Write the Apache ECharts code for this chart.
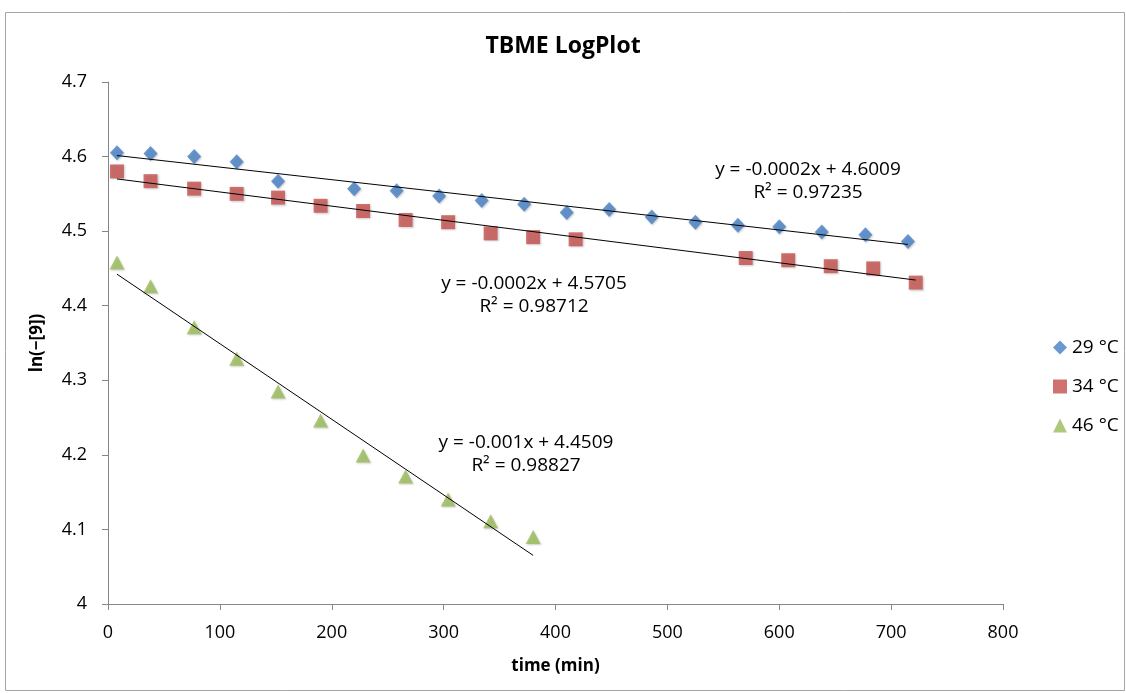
<!DOCTYPE html>
<html>
<head>
<meta charset="utf-8">
<script src="https://cdn.jsdelivr.net/npm/echarts@6/dist/echarts.min.js"></script>
<style>
  html, body { margin: 0; padding: 0; background: #fff; }
  #chart { width: 1126px; height: 693px; }
</style>
</head>
<body>
<div id="chart"></div>
<script>
// values
const seriesNames = ["29 °C", "34 °C", "46 °C"];

const time29 = [8, 38, 77, 115, 152, 220, 258, 296, 334, 372, 410, 448, 486, 525, 563, 600, 638, 677, 715];
const ln29 = [4.605, 4.604, 4.600, 4.593, 4.567, 4.557, 4.554, 4.547, 4.541, 4.536, 4.525, 4.529, 4.519, 4.512, 4.508, 4.506, 4.499, 4.495, 4.486];

const time34 = [8, 38, 77, 115, 152, 190, 228, 266, 304, 342, 380, 418, 570, 608, 646, 684, 722];
const ln34 = [4.580, 4.567, 4.557, 4.550, 4.545, 4.534, 4.527, 4.515, 4.512, 4.497, 4.492, 4.489, 4.464, 4.461, 4.453, 4.450, 4.431];

const time46 = [8, 38, 77, 115, 152, 190, 228, 266, 304, 342, 380];
const ln46 = [4.458, 4.426, 4.371, 4.329, 4.285, 4.246, 4.199, 4.171, 4.140, 4.111, 4.090];

const trendLabels = [
  "y = -0.0002x + 4.6009\nR² = 0.97235",
  "y = -0.0002x + 4.5705\nR² = 0.98712",
  "y = -0.001x + 4.4509\nR² = 0.98827",
];

const colors = ["#4580c6", "#c4504c", "#9bbb59"];
const symbols = ["diamond", "rect", "triangle"];
const symbolSizes = [[14, 15], [14, 14], [15, 14]];
const FONT = "Open Sans";

// least squares fit, the way the spreadsheet draws its trendline
function fitLine(xs, ys) {
  const n = xs.length;
  let sx = 0, sy = 0, sxx = 0, sxy = 0;
  for (let i = 0; i < n; i++) {
    sx += xs[i]; sy += ys[i];
    sxx += xs[i] * xs[i]; sxy += xs[i] * ys[i];
  }
  const b = (n * sxy - sx * sy) / (n * sxx - sx * sx);
  const a = (sy - b * sx) / n;
  const x0 = Math.min(...xs), x1 = Math.max(...xs);
  return [[x0, a + b * x0], [x1, a + b * x1]];
}

const allT = [time29, time34, time46];
const allV = [ln29, ln34, ln46];

const scatterSeries = allT.map((ts, i) => ({
  name: seriesNames[i],
  type: "scatter",
  symbol: symbols[i],
  symbolSize: symbolSizes[i],
  itemStyle: {
    color: colors[i],
    shadowColor: "rgba(0,0,0,0.25)",
    shadowBlur: 2,
    shadowOffsetX: 1,
    shadowOffsetY: 1,
  },
  data: ts.map((t, j) => [t, allV[i][j]]),
  z: 3,
}));

const trendSeries = allT.map((ts, i) => ({
  name: "trend" + i,
  type: "line",
  data: fitLine(ts, allV[i]),
  symbol: "none",
  lineStyle: { color: "#000", width: 1 },
  silent: true,
  z: 4,
}));

function eqText(i, x, y) {
  return {
    type: "text",
    x: x,
    y: y,
    style: {
      text: trendLabels[i],
      font: "19px '" + FONT + "'",
      fill: "#000",
      align: "center",
      verticalAlign: "middle",
      lineHeight: 23,
    },
    silent: true,
  };
}

const chart = echarts.init(document.getElementById("chart"));
chart.setOption({
  animation: false,
  title: {
    text: "TBME LogPlot",
    left: "center",
    top: 30,
    textStyle: { fontFamily: FONT, fontSize: 23, fontWeight: "bold", color: "#000" },
  },
  legend: {
    data: seriesNames,
    orient: "vertical",
    left: 1048,
    top: 333,
    itemGap: 20,
    itemWidth: 14,
    itemHeight: 14,
    textStyle: { fontFamily: FONT, fontSize: 19, lineHeight: 18, color: "#000" },
  },
  grid: { left: 108, right: 123, top: 82, bottom: 89 },
  xAxis: {
    type: "value",
    min: 0,
    max: 800,
    interval: 100,
    name: "time (min)",
    nameLocation: "middle",
    nameGap: 54,
    nameTextStyle: { fontFamily: FONT, fontSize: 17, fontWeight: "bold", color: "#000" },
    axisLine: { lineStyle: { color: "#868686" } },
    axisTick: { inside: false, length: 6, lineStyle: { color: "#868686" } },
    axisLabel: { fontFamily: FONT, fontSize: 18, color: "#000", margin: 20 },
    splitLine: { show: false },
  },
  yAxis: {
    type: "value",
    min: 4,
    max: 4.7,
    interval: 0.1,
    name: "ln(−[9])",
    nameLocation: "middle",
    nameGap: 62,
    nameTextStyle: { fontFamily: FONT, fontSize: 17, fontWeight: "bold", color: "#000" },
    axisLine: { show: true, lineStyle: { color: "#868686" } },
    axisTick: { show: true, inside: false, length: 6, lineStyle: { color: "#868686" } },
    axisLabel: { fontFamily: FONT, fontSize: 18, color: "#000", margin: 21 },
    splitLine: { show: false },
  },
  graphic: [
    {
      type: "rect",
      left: 3,
      top: 10,
      shape: { width: 1119, height: 678 },
      style: { fill: "none", stroke: "#a6a6a6", lineWidth: 1 },
      silent: true,
    },
    eqText(0, 808, 181),
    eqText(1, 534, 295),
    eqText(2, 526, 454),
  ],
  series: [...scatterSeries, ...trendSeries],
});
</script>
</body>
</html>
